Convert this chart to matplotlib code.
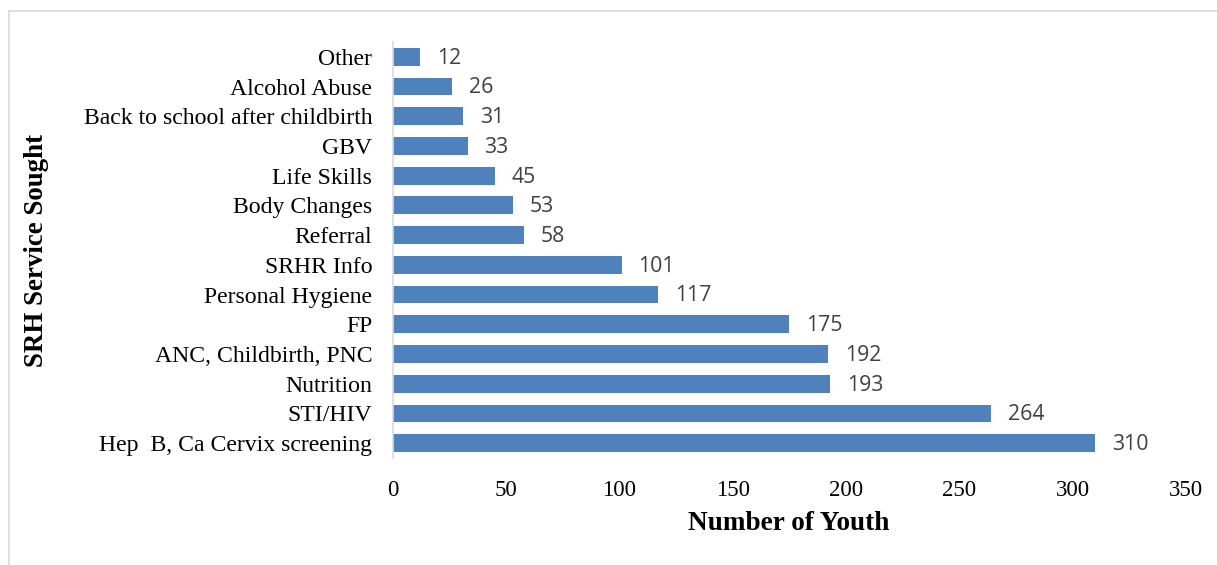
import matplotlib.pyplot as plt
from matplotlib.lines import Line2D

# data (top to bottom as shown)
services = [
    "Other", "Alcohol Abuse", "Back to school after childbirth", "GBV",
    "Life Skills", "Body Changes", "Referral", "SRHR Info",
    "Personal Hygiene", "FP", "ANC, Childbirth, PNC", "Nutrition",
    "STI/HIV", "Hep  B, Ca Cervix screening",
]
youth_counts = [12, 26, 31, 33, 45, 53, 58, 101, 117, 175, 192, 193, 264, 310]
x_ticks = [0, 50, 100, 150, 200, 250, 300, 350]

BAR_COLOR = "#4F81BD"
SERIF = "Liberation Serif"

fig = plt.figure(figsize=(12.17, 5.65), dpi=100)
ax = fig.add_axes([0.3229, 0.1894, 0.6516, 0.7363])

pos = list(range(len(services)))
ax.barh(pos, youth_counts, height=0.6, color=BAR_COLOR)
ax.set_ylim(len(services) - 0.5, -0.5)
ax.set_xlim(0, 350)

for p, v in zip(pos, youth_counts):
    ax.annotate(str(v), xy=(v, p), xytext=(12, -1), textcoords="offset points",
                va="center", ha="left", fontsize=15.3, family="Open Sans",
                color="#404040")

ax.set_yticks(pos)
ax.set_yticklabels(services, family=SERIF, fontsize=17.1)
ax.set_xticks(x_ticks)
ax.set_xticklabels([str(t) for t in x_ticks], family=SERIF, fontsize=16.5)
ax.tick_params(axis="y", length=0, pad=15)
ax.tick_params(axis="x", length=0, pad=16)

for side in ["top", "right", "bottom"]:
    ax.spines[side].set_visible(False)
ax.spines["left"].set_color("#d9d9d9")
ax.spines["left"].set_linewidth(1.2)

fig.text(0.648, 0.074, "Number of Youth", ha="center", va="center",
         family=SERIF, fontweight="bold", fontsize=19.6)
fig.text(0.030, 0.557, "SRH Service Sought", ha="center", va="center",
         rotation=90, family=SERIF, fontweight="bold", fontsize=19.4)

# outer chart frame (only top and left visible)
frame_c = "#d9d9d9"
fig.add_artist(Line2D([9 / 1217, 1.0], [1 - 11 / 565, 1 - 11 / 565],
                      transform=fig.transFigure, color=frame_c, lw=1.2))
fig.add_artist(Line2D([9 / 1217, 9 / 1217], [0.0, 1 - 11 / 565],
                      transform=fig.transFigure, color=frame_c, lw=1.2))

fig.savefig("out.png", dpi=100)
